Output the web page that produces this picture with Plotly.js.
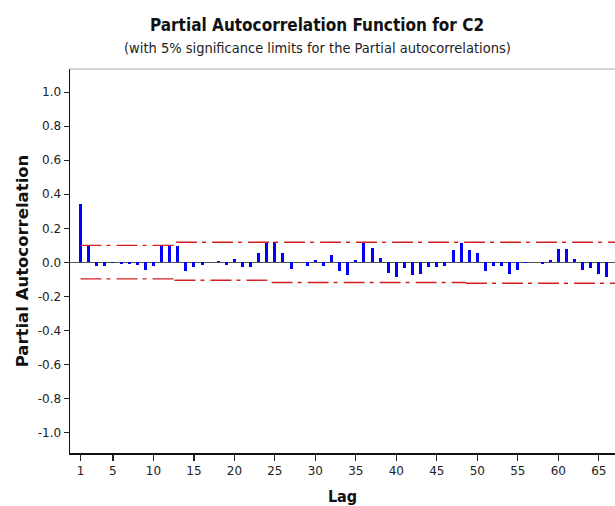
<!DOCTYPE html>
<html>
<head>
<meta charset="utf-8">
<script src="https://cdn.plot.ly/plotly-3.0.1.min.js"></script>
<style>html,body{margin:0;padding:0;background:#fff;overflow:hidden}</style>
</head>
<body>
<div id="chart" style="width:615px;height:506px"></div>
<script>
// Lags and partial autocorrelations
const lags = [];
for (let i = 1; i <= 66; i++) lags.push(i);
const pacf = [
  0.340, 0.100, -0.020, -0.020, -0.004, -0.012, -0.012, -0.014, -0.047, -0.020,
  0.100, 0.100, 0.098, -0.052, -0.030, -0.014, 0.003, 0.008, -0.014, 0.020,
  -0.030, -0.030, 0.054, 0.117, 0.117, 0.054, -0.037, 0.002, -0.020, 0.012,
  -0.020, 0.045, -0.053, -0.072, 0.012, 0.118, 0.087, 0.028, -0.060, -0.088,
  -0.036, -0.076, -0.070, -0.027, -0.027, -0.020, 0.070, 0.116, 0.070, 0.054,
  -0.052, -0.020, -0.020, -0.070, -0.045, -0.003, 0.002, -0.012, 0.011, 0.079,
  0.079, 0.020, -0.046, -0.035, -0.070, -0.087
];
// 5% significance limits (step segments, null separates segments)
const upperLimitX = [1, 12.8, null, 12.8, 67];
const upperLimitY = [0.100, 0.100, null, 0.118, 0.118];
const lowerLimitX = [1, 12.6, null, 12.6, 24.6, null, 24.6, 48.6, null, 48.6, 67];
const lowerLimitY = [-0.097, -0.097, null, -0.105, -0.105, null, -0.118, -0.118, null, -0.123, -0.123];

const xTickVals = [1, 5, 10, 15, 20, 25, 30, 35, 40, 45, 50, 55, 60, 65];
const yTickVals = [-1.0, -0.8, -0.6, -0.4, -0.2, 0.0, 0.2, 0.4, 0.6, 0.8, 1.0];
const yTickText = ["-1.0", "-0.8", "-0.6", "-0.4", "-0.2", "0.0", "0.2", "0.4", "0.6", "0.8", "1.0"];

const limitStyle = {color: '#d42020', width: 1.4, dash: '21px,5px,4px,6px'};

const traces = [
  {type: 'bar', x: lags, y: pacf, width: 0.37, marker: {color: '#0000ff', line: {width: 0}},
   showlegend: false, hoverinfo: 'x+y'},
  {type: 'scatter', mode: 'lines', x: upperLimitX, y: upperLimitY, line: limitStyle,
   showlegend: false, connectgaps: false, hoverinfo: 'skip'},
  {type: 'scatter', mode: 'lines', x: lowerLimitX, y: lowerLimitY, line: limitStyle,
   showlegend: false, connectgaps: false, hoverinfo: 'skip'}
];

const tickFont = {family: 'DejaVu Sans, Verdana, sans-serif', size: 12, color: '#222'};
const layout = {
  width: 615, height: 506,
  margin: {l: 70, r: 0, t: 69, b: 53, pad: 0},
  paper_bgcolor: '#ffffff', plot_bgcolor: '#ffffff',
  showlegend: false,
  bargap: 0,
  xaxis: {
    range: [-0.3, 67.0], tickmode: 'array', tickvals: xTickVals,
    ticks: 'outside', ticklen: 6, tickwidth: 1.2, tickcolor: '#222',
    showline: true, linecolor: '#111', linewidth: 1.5, mirror: false,
    showgrid: false, zeroline: false, tickfont: tickFont,
    title: {text: 'Lag', font: {family: 'DejaVu Sans Condensed, sans-serif', size: 16, color: '#111', weight: 'bold'}, standoff: 20}
  },
  yaxis: {
    range: [-1.12, 1.136], tickmode: 'array', tickvals: yTickVals, ticktext: yTickText,
    ticks: 'outside', ticklen: 5, tickwidth: 1.2, tickcolor: '#222',
    showline: true, linecolor: '#111', linewidth: 1.5, mirror: false,
    showgrid: false, zeroline: true, zerolinecolor: '#555', zerolinewidth: 1.5,
    tickfont: tickFont,
    title: {text: 'Partial Autocorrelation', font: {family: 'DejaVu Sans, Verdana, sans-serif', size: 16.5, color: '#111', weight: 'bold'}, standoff: 5}
  },
  shapes: [
    {type: 'line', xref: 'paper', yref: 'paper', x0: 0, x1: 1, y0: 1, y1: 1,
     line: {color: '#c4c4c4', width: 1.5}}
  ],
  annotations: [
    {text: 'Partial Autocorrelation Function for C2', xref: 'paper', yref: 'paper',
     x: 0.453, y: 1.1146, xanchor: 'center', yanchor: 'middle', showarrow: false,
     font: {family: 'DejaVu Sans Condensed, sans-serif', size: 17, color: '#111', weight: 'bold'}},
    {text: '(with 5% significance limits for the Partial autocorrelations)', xref: 'paper', yref: 'paper',
     x: 0.454, y: 1.0547, xanchor: 'center', yanchor: 'middle', showarrow: false,
     font: {family: 'DejaVu Sans Condensed, sans-serif', size: 14.5, color: '#222'}}
  ]
};

Plotly.newPlot('chart', traces, layout, {displayModeBar: false, staticPlot: true});
</script>
</body>
</html>
